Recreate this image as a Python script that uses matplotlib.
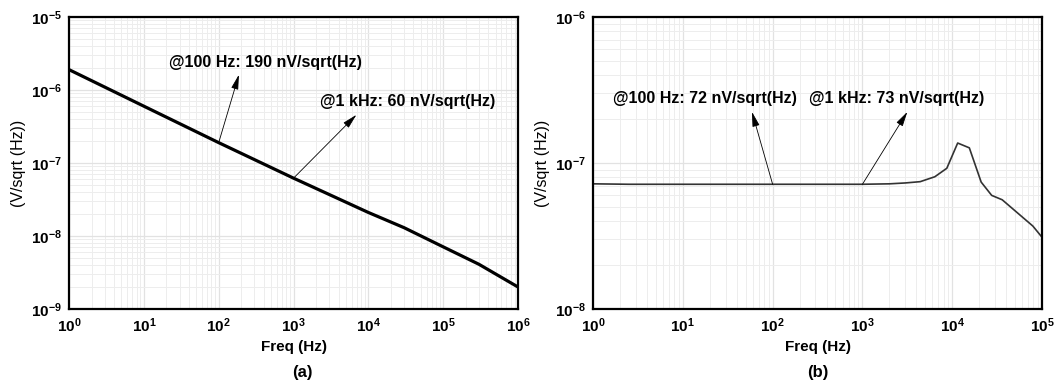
import numpy as np
import matplotlib
matplotlib.use('Agg')
import matplotlib.pyplot as plt
from matplotlib.ticker import LogLocator, NullFormatter, FuncFormatter

plt.rcParams['font.family'] = ['Liberation Sans', 'DejaVu Sans']
plt.rcParams['mathtext.fontset'] = 'custom'
plt.rcParams['mathtext.rm'] = 'Liberation Sans'
plt.rcParams['mathtext.bf'] = 'Liberation Sans:bold'

# (a) noise spectrum, decreasing roughly as 1/sqrt(f)
freq_a = [1, 10, 100, 1e3, 3e3, 1e4, 3e4, 1e5, 3e5, 1e6]
noise_a = [1.9e-6, 6.0e-7, 1.9e-7, 6.2e-8, 3.7e-8, 2.1e-8, 1.3e-8, 7.1e-9, 4.1e-9, 2.0e-9]

# (b) flat noise with peak near 10 kHz
freq_b = [1, 2.5, 10, 100, 1e3, 2e3, 3e3, 4.4e3, 6.4e3, 8.7e3, 1.15e4, 1.55e4,
          2.1e4, 2.75e4, 3.6e4, 7.9e4, 1e5]
noise_b = [7.2e-8, 7.15e-8, 7.15e-8, 7.15e-8, 7.15e-8, 7.2e-8, 7.3e-8, 7.45e-8,
           8.05e-8, 9.2e-8, 1.37e-7, 1.27e-7, 7.4e-8, 6.0e-8, 5.6e-8, 3.7e-8, 3.1e-8]

notes_a = ['@100 Hz: 190 nV/sqrt(Hz)', '@1 kHz: 60 nV/sqrt(Hz)']
notes_b = ['@100 Hz: 72 nV/sqrt(Hz)', '@1 kHz: 73 nV/sqrt(Hz)']

fig = plt.figure(figsize=(10.62, 3.88), dpi=100)
ax1 = fig.add_axes([0.065, 0.2036, 0.4228, 0.7526])
ax2 = fig.add_axes([0.5584, 0.2036, 0.4228, 0.7526])

pow_fmt = FuncFormatter(lambda v, pos: r'$\mathbf{10^{%d}}$' % int(round(np.log10(v))))


def style(ax, xlim, ylim):
    ax.set_xscale('log')
    ax.set_yscale('log')
    ax.set_xlim(*xlim)
    ax.set_ylim(*ylim)
    ax.xaxis.set_major_locator(LogLocator(base=10, numticks=20))
    ax.yaxis.set_major_locator(LogLocator(base=10, numticks=20))
    ax.xaxis.set_minor_locator(LogLocator(base=10, subs=np.arange(2, 10), numticks=20))
    ax.yaxis.set_minor_locator(LogLocator(base=10, subs=np.arange(2, 10), numticks=20))
    ax.xaxis.set_major_formatter(pow_fmt)
    ax.yaxis.set_major_formatter(pow_fmt)
    ax.xaxis.set_minor_formatter(NullFormatter())
    ax.yaxis.set_minor_formatter(NullFormatter())
    ax.grid(which='major', color='#e2e2e2', lw=0.9)
    ax.grid(which='minor', color='#ededed', lw=0.7)
    ax.set_axisbelow(True)
    ax.tick_params(which='both', length=0, labelsize=11, pad=5)
    for s in ax.spines.values():
        s.set_linewidth(1.6)
        s.set_color('black')
    ax.set_xlabel('Freq (Hz)', fontsize=11, fontweight='bold', labelpad=4)
    ax.set_ylabel('(V/sqrt (Hz))', fontsize=11.5, labelpad=4)


style(ax1, (1, 1e6), (1e-9, 1e-5))
style(ax2, (1, 1e5), (1e-8, 1e-6))

ax1.plot(freq_a, noise_a, color='black', lw=2.3)
ax2.plot(freq_b, noise_b, color='#333333', lw=1.2)

arrow = dict(arrowstyle='-|>,head_length=0.9,head_width=0.22', color='black',
             lw=0.6, shrinkA=0, shrinkB=0)

# annotations (a)
ax1.annotate('', xy=(10**2.27, 10**-5.79), xytext=(100, 1.9e-7), arrowprops=arrow)
ax1.text(10**2.63, 10**-5.63, notes_a[0], ha='center', va='center',
         fontsize=11.5, fontweight='bold')
ax1.annotate('', xy=(10**3.84, 10**-6.34), xytext=(1000, 6.2e-8), arrowprops=arrow)
ax1.text(10**4.53, 10**-6.16, notes_a[1], ha='center', va='center',
         fontsize=11.5, fontweight='bold')

# annotations (b)
ax2.annotate('', xy=(10**1.77, 10**-6.65), xytext=(100, 7.15e-8), arrowprops=arrow)
ax2.text(10**1.25, 10**-6.555, notes_b[0], ha='center', va='center',
         fontsize=11.5, fontweight='bold')
ax2.annotate('', xy=(10**3.50, 10**-6.65), xytext=(1000, 7.15e-8), arrowprops=arrow)
ax2.text(10**3.38, 10**-6.555, notes_b[1], ha='center', va='center',
         fontsize=11.5, fontweight='bold')

fig.text(302 / 1062, 1 - 373 / 388, '(a)', ha='center', va='center',
         fontsize=12, fontweight='bold')
fig.text(818 / 1062, 1 - 373 / 388, '(b)', ha='center', va='center',
         fontsize=12, fontweight='bold')

fig.savefig('out.png', dpi=100)
